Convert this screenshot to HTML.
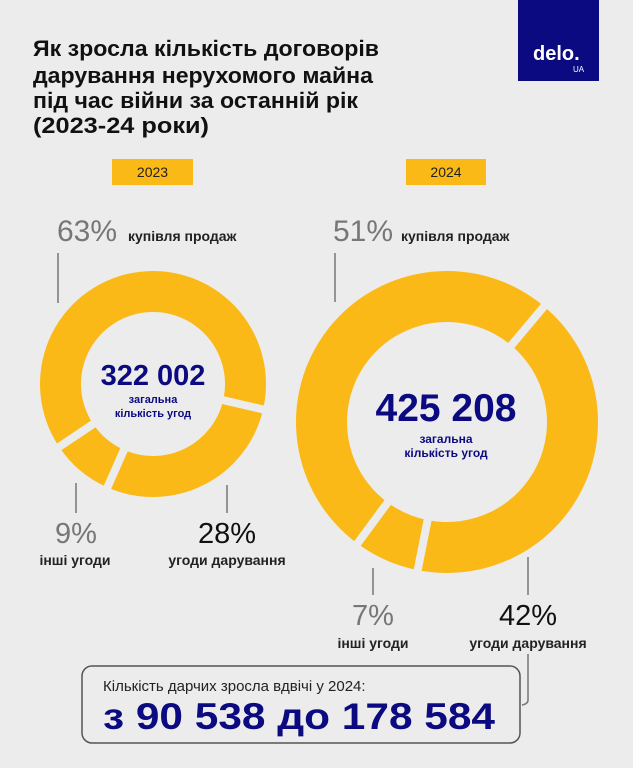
<!DOCTYPE html>
<html><head><meta charset="utf-8"><style>
html,body{margin:0;padding:0;background:#ececec;}
svg{display:block;font-family:"Liberation Sans",sans-serif;}
</style></head><body>
<svg id="chart" width="633" height="768" viewBox="0 0 633 768">
<rect width="633" height="768" fill="#ececec"/>
<g font-weight="bold" font-size="22" fill="#111">
<text x="33" y="56" textLength="346" lengthAdjust="spacingAndGlyphs">Як зросла кількість договорів</text>
<text x="33" y="83" textLength="340" lengthAdjust="spacingAndGlyphs">дарування нерухомого майна</text>
<text x="33" y="108" textLength="325" lengthAdjust="spacingAndGlyphs">під час війни за останній рік</text>
<text x="33" y="133" textLength="176" lengthAdjust="spacingAndGlyphs">(2023-24 роки)</text>
</g>
<g>
<rect x="518" y="0" width="81" height="81" fill="#0b0a80"/>
<text x="533" y="60" fill="#fff" font-size="20" font-weight="bold">delo.</text>
<text x="573" y="72" fill="#fff" font-size="8">UA</text>
</g>
<g><rect x="112" y="159" width="81" height="26" fill="#fbb918"/><text x="152.5" y="177" text-anchor="middle" font-size="14" fill="#222">2023</text></g>
<g><rect x="406" y="159" width="80" height="26" fill="#fbb918"/><text x="446" y="177" text-anchor="middle" font-size="14" fill="#222">2024</text></g>
<g id="donuts"></g>
<g stroke="#777" stroke-width="1.5">
<line x1="58" y1="253" x2="58" y2="303"/><line x1="335" y1="253" x2="335" y2="302"/>
<line x1="76" y1="483" x2="76" y2="513"/><line x1="227" y1="485" x2="227" y2="513"/>
<line x1="373" y1="568" x2="373" y2="595"/><line x1="528" y1="557" x2="528" y2="595"/>
<path d="M528 654 V700 Q528 704 522 705" fill="none"/>
</g>
<g>
<text x="57" y="241" font-size="30" fill="#777">63%</text>
<text x="128" y="241" font-size="14" font-weight="bold" fill="#222">купівля продаж</text>
<text x="76" y="543" text-anchor="middle" font-size="29" fill="#777">9%</text>
<text x="75" y="565" text-anchor="middle" font-size="14" font-weight="bold" fill="#222">інші угоди</text>
<text x="227" y="543" text-anchor="middle" font-size="29" fill="#111">28%</text>
<text x="227" y="565" text-anchor="middle" font-size="14" font-weight="bold" fill="#222">угоди дарування</text>
</g>
<g>
<text x="333" y="241" font-size="30" fill="#777">51%</text>
<text x="401" y="241" font-size="14" font-weight="bold" fill="#222">купівля продаж</text>
<text x="373" y="625" text-anchor="middle" font-size="29" fill="#777">7%</text>
<text x="373" y="648" text-anchor="middle" font-size="14" font-weight="bold" fill="#222">інші угоди</text>
<text x="528" y="625" text-anchor="middle" font-size="29" fill="#111">42%</text>
<text x="528" y="648" text-anchor="middle" font-size="14" font-weight="bold" fill="#222">угоди дарування</text>
</g>
<g fill="#0b0a80" font-weight="bold" text-anchor="middle">
<text x="153" y="385" font-size="29">322 002</text>
<text x="153" y="403" font-size="11">загальна</text>
<text x="153" y="417" font-size="11">кількість угод</text>
</g>
<g fill="#0b0a80" font-weight="bold" text-anchor="middle">
<text x="446" y="421" font-size="39">425 208</text>
<text x="446" y="443" font-size="12">загальна</text>
<text x="446" y="457" font-size="12">кількість угод</text>
</g>
<g>
<rect x="82" y="666" width="438" height="77" rx="10" fill="none" stroke="#555" stroke-width="1.5"/>
<text x="103" y="691" font-size="15" fill="#222">Кількість дарчих зросла вдвічі у 2024:</text>
<text x="103" y="729" font-size="37" font-weight="bold" fill="#0b0a80" textLength="392" lengthAdjust="spacingAndGlyphs">з 90 538 до 178 584</text>
</g>
</svg>
<script>
const categories = ["угоди дарування", "інші угоди", "купівля продаж"];
const values2023 = [28, 9, 63];
const values2024 = [42, 7, 51];
const NS = "http://www.w3.org/2000/svg";
const g = document.getElementById("donuts");
function pt(cx, cy, r, deg) { const a = deg * Math.PI / 180; return [cx + r * Math.sin(a), cy - r * Math.cos(a)]; }
function angleScale(total) { return v => v / total * 360; }
function drawDonut(vals, cx, cy, R, r, start, name) {
  const total = vals.reduce((a, b) => a + b, 0);
  const sc = angleScale(total);
  let a0 = start;
  const bounds = [];
  vals.forEach((v, i) => {
    const a1 = a0 + sc(v);
    const large = (a1 - a0) > 180 ? 1 : 0;
    const p1 = pt(cx, cy, R, a0), p2 = pt(cx, cy, R, a1), p3 = pt(cx, cy, r, a1), p4 = pt(cx, cy, r, a0);
    const path = document.createElementNS(NS, "path");
    path.setAttribute("d", `M${p1} A${R} ${R} 0 ${large} 1 ${p2} L${p3} A${r} ${r} 0 ${large} 0 ${p4} Z`);
    path.setAttribute("fill", "#fbb918");
    
    
    g.appendChild(path);
    bounds.push(a0);
    a0 = a1;
  });
  bounds.forEach(b => {
    const q1 = pt(cx, cy, r - 3, b), q2 = pt(cx, cy, R + 3, b);
    const ln = document.createElementNS(NS, "line");
    ln.setAttribute("x1", q1[0]); ln.setAttribute("y1", q1[1]);
    ln.setAttribute("x2", q2[0]); ln.setAttribute("y2", q2[1]);
    ln.setAttribute("stroke", "#ececec"); ln.setAttribute("stroke-width", "8");
    
    
    g.appendChild(ln);
  });
}
drawDonut(values2023, 153, 384, 113, 72, 103, "donut-2023");
drawDonut(values2024, 447, 422, 151, 100, 40, "donut-2024");
</script>
</body></html>
